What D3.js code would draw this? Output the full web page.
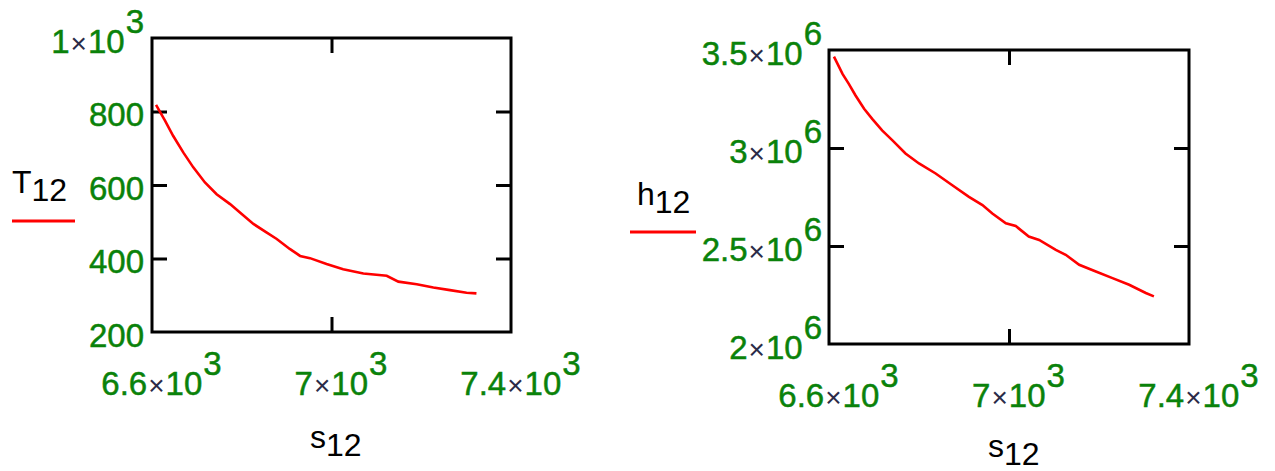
<!DOCTYPE html>
<html>
<head>
<meta charset="utf-8">
<script src="https://cdn.jsdelivr.net/npm/d3@7"></script>
<style>
  body { margin: 0; background: #fff; }
  svg { display: block; }
</style>
</head>
<body>
<div id="chart"></div>
<script>
// Left chart: T12 against s12
const sLeft = [6609, 6629, 6647, 6670, 6692, 6718, 6744, 6774, 6796, 6826, 6855, 6878, 6907,
  6930, 6952, 6989, 7026, 7071, 7123, 7149, 7190, 7227, 7264, 7301, 7323];
const tLeft = [818, 775, 734, 688, 648, 607, 575, 548, 525, 494, 471, 453, 426,
  407, 401, 385, 371, 359, 353, 337, 330, 321, 314, 307, 305];

// Right chart: h12 against s12
const sRight = [6611, 6630, 6644, 6659, 6678, 6696, 6718, 6741, 6770, 6800, 6837, 6874, 6911, 6941,
  6963, 6993, 7015, 7044, 7067, 7104, 7126, 7156, 7193, 7230, 7267, 7304, 7322];
const hRight = [3.466e6, 3.378e6, 3.327e6, 3.268e6, 3.200e6, 3.149e6, 3.090e6, 3.039e6, 2.972e6,
  2.921e6, 2.870e6, 2.810e6, 2.751e6, 2.709e6, 2.666e6, 2.616e6, 2.602e6, 2.548e6, 2.531e6,
  2.480e6, 2.455e6, 2.404e6, 2.370e6, 2.336e6, 2.302e6, 2.260e6, 2.243e6];

// tick values
const sTicks = [6600, 7000, 7400];
const tTicks = [200, 400, 600, 800, 1000];
const hTicks = [2e6, 2.5e6, 3e6, 3.5e6];

const green = '#0a820a';
const font = 'Arial, "Liberation Sans", sans-serif';
const fs = 33;

const svg = d3.select('#chart').append('svg')
  .attr('width', 1275)
  .attr('height', 471)
  .style('font-family', font);

// Mathcad style: 1000 and up written as m×10^e
function sci(v) {
  if (Math.abs(v) < 1000) return null;
  const e = Math.floor(Math.log10(Math.abs(v)));
  const m = +(v / Math.pow(10, e)).toFixed(3);
  return {'m': String(m), 'e': String(e)};
}

function writeLabel(t, d) {
  t.text(null);
  const s = sci(d);
  if (!s) { t.append('tspan').text(d); return; }
  t.append('tspan').text(s.m);
  t.append('tspan').attr('font-size', 28).attr('fill', '#2b2b48')
    .attr('stroke', 'none').attr('dx', 1).text('×');
  t.append('tspan').attr('dx', 1).text('10');
  t.append('tspan').attr('dx', 1).attr('dy', -20).text(s.e);
}

function panel(p) {
  const x = d3.scaleLinear().domain([6600, 7400]).range([p.x0, p.x1]);
  const y = d3.scaleLinear().domain(p.yDomain).range([p.y1, p.y0]);
  const g = svg.append('g');

  const yInner = p.yTicks.slice(1, -1);
  const xInner = sTicks.slice(1, -1);

  // inner tick marks on all four sides
  const marks = [
    [d3.axisLeft(y).tickValues(yInner), 'translate(' + p.x0 + ',0)'],
    [d3.axisRight(y).tickValues(yInner), 'translate(' + p.x1 + ',0)'],
    [d3.axisTop(x).tickValues(xInner), 'translate(0,' + p.y0 + ')'],
    [d3.axisBottom(x).tickValues(xInner), 'translate(0,' + p.y1 + ')']
  ];
  marks.forEach(([ax, tr]) => {
    const a = g.append('g').attr('transform', tr)
      .call(ax.tickSize(-15).tickFormat(''));
    a.select('.domain').remove();
    a.selectAll('line').attr('stroke', '#000').attr('stroke-width', 3);
  });

  // the data line
  const pts = p.xs.map((v, i) => [v, p.ys[i]]);
  g.append('path')
    .datum(pts)
    .attr('fill', 'none')
    .attr('stroke', '#ff0000')
    .attr('stroke-width', 2.6)
    .attr('d', d3.line().x(d => x(d[0])).y(d => y(d[1])));

  // frame
  g.append('rect')
    .attr('x', p.x0).attr('y', p.y0)
    .attr('width', p.x1 - p.x0).attr('height', p.y1 - p.y0)
    .attr('fill', 'none').attr('stroke', '#000').attr('stroke-width', 3);

  // y tick labels
  const yl = g.append('g').attr('transform', 'translate(' + p.x0 + ',0)')
    .call(d3.axisLeft(y).tickValues(p.yTicks).tickSize(0).tickPadding(p.pad));
  yl.select('.domain').remove();
  yl.selectAll('text')
    .attr('fill', green).attr('font-size', fs).attr('font-family', font)
    .attr('stroke', green).attr('stroke-width', 0.5)
    .attr('dy', 14)
    .each(function(d) { writeLabel(d3.select(this), d); });

  // x tick labels
  const xl = g.append('g').attr('transform', 'translate(0,' + p.y1 + ')')
    .call(d3.axisBottom(x).tickValues(sTicks).tickSize(0).tickPadding(0));
  xl.select('.domain').remove();
  xl.selectAll('text')
    .attr('fill', green).attr('font-size', fs).attr('font-family', font)
    .attr('stroke', green).attr('stroke-width', 0.5)
    .attr('y', 63).attr('dy', 0).attr('x', 9)
    .each(function(d) { writeLabel(d3.select(this), d); });

  // y legend
  const yt = g.append('text')
    .attr('x', p.yName.x).attr('y', p.yName.y)
    .attr('font-size', 32).attr('fill', '#000');
  yt.append('tspan').text(p.yName.sym);
  yt.append('tspan').attr('dy', 8).text('12');
  g.append('line')
    .attr('x1', p.legend[0]).attr('x2', p.legend[1])
    .attr('y1', p.legend[2]).attr('y2', p.legend[2])
    .attr('stroke', '#ff0000').attr('stroke-width', 3);

  // x title
  const xt = g.append('text')
    .attr('x', p.xName.x).attr('y', p.xName.y)
    .attr('font-size', 32).attr('fill', '#000');
  xt.append('tspan').text('s');
  xt.append('tspan').attr('dy', 8).text('12');
}

panel({
  'x0': 152, 'x1': 511, 'y0': 38, 'y1': 332, 'pad': 8,
  'xs': sLeft, 'ys': tLeft,
  'yDomain': [200, 1000], 'yTicks': tTicks,
  'yName': {'sym': 'T', 'x': 12, 'y': 193},
  'legend': [12, 75, 221],
  'xName': {'x': 310, 'y': 448}
});

panel({
  'x0': 829, 'x1': 1189, 'y0': 50, 'y1': 344, 'pad': 7,
  'xs': sRight, 'ys': hRight,
  'yDomain': [2e6, 3.5e6], 'yTicks': hTicks,
  'yName': {'sym': 'h', 'x': 637, 'y': 205},
  'legend': [630, 696, 232],
  'xName': {'x': 988, 'y': 457}
});
</script>
</body>
</html>
